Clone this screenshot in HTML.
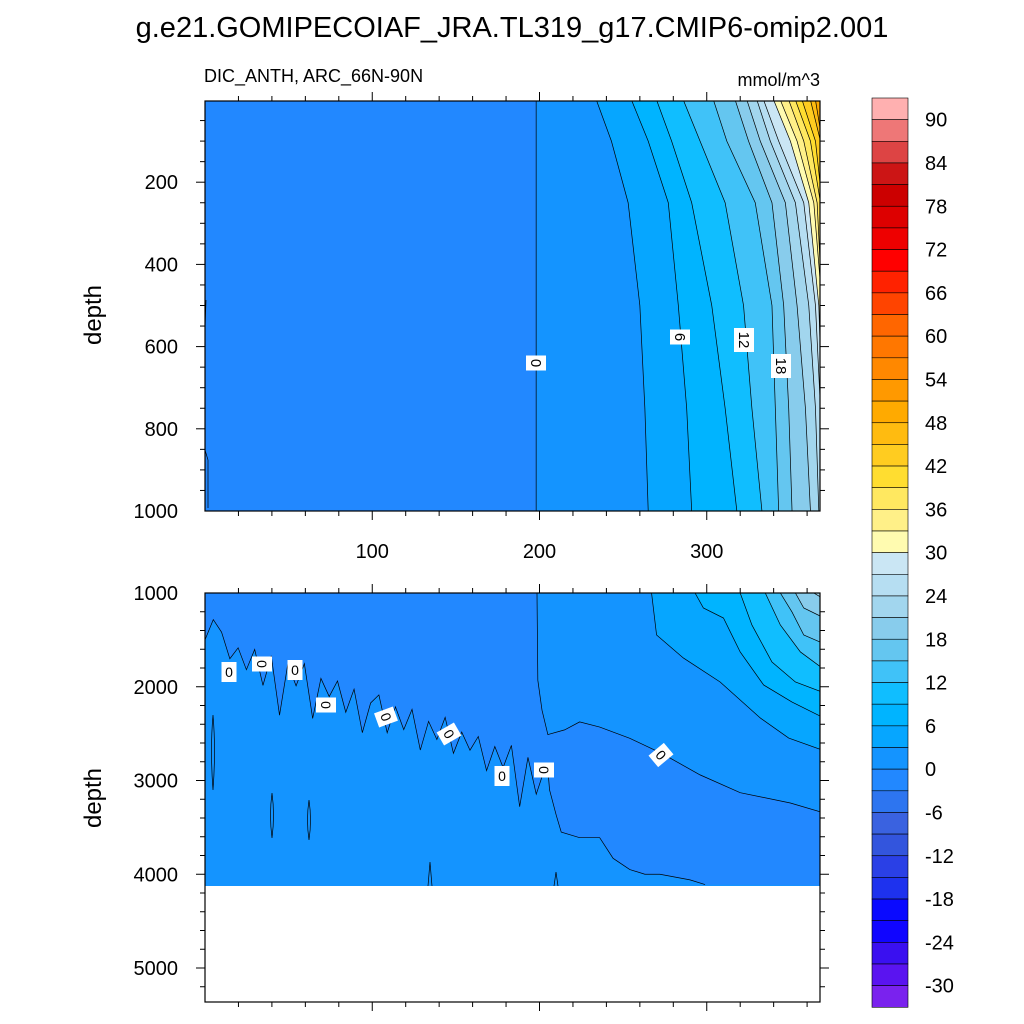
<!DOCTYPE html>
<html><head><meta charset="utf-8"><style>
body{margin:0;background:#fff}
svg{display:block;font-family:"Liberation Sans",sans-serif}
</style></head><body>
<svg id="c" width="1024" height="1024" viewBox="0 0 1024 1024" xmlns="http://www.w3.org/2000/svg">
<rect width="1024" height="1024" fill="#fff"/>
<text x="512" y="37" font-size="29" text-anchor="middle">g.e21.GOMIPECOIAF_JRA.TL319_g17.CMIP6-omip2.001</text>
<text x="204" y="82" font-size="18">DIC_ANTH, ARC_66N-90N</text>
<text x="820" y="86" font-size="18" text-anchor="end">mmol/m^3</text>
<text transform="translate(101,315) rotate(-90)" font-size="24" text-anchor="middle">depth</text>
<text transform="translate(101,798) rotate(-90)" font-size="24" text-anchor="middle">depth</text>
<defs>
<clipPath id="clipT"><rect x="205" y="101" width="615" height="410"/></clipPath>
<clipPath id="clipB"><rect x="205" y="593" width="615" height="293"/></clipPath>
</defs>
<g id="topPanel" clip-path="url(#clipT)"></g>
<g id="botPanel" clip-path="url(#clipB)"></g>
<g id="axes"></g>
<g id="cbar"></g>
</svg>
<script>
// ---- data ----
const bandLevels=[-33,-30,-27,-24,-21,-18,-15,-12,-9,-6,-3,0,3,6,9,12,15,18,21,24,27,30,33,36,39,42,45,48,51,54,57,60,63,66,69,72,75,78,81,84,87,90];
const bandColors=["#7A22EE","#5A14F0","#3A10F0","#1005FF","#0A0AFF","#1E32EE","#2A40E6","#3355DD","#3A62E0","#2D75F0","#2288FF","#1494FF","#06A6FF","#00B4FF","#10BEFF","#40C2F8","#64C6F0","#88CCEC","#A2D6EE","#B6DEF2","#CAE6F4","#FFFBB0","#FFF088","#FFE860","#FFDD30","#FFCC20","#FFBB10","#FFAA00","#FF9900","#FF8800","#FF7700","#FF6600","#FF4400","#FF2200","#FF0000","#EE0000","#DD0000","#CC0000","#CC1515","#DD4444","#EE7777","#FFB0B0"];
const cbarLabels=[90,84,78,72,66,60,54,48,42,36,30,24,18,12,6,0,-6,-12,-18,-24,-30];
const topDepths=[0,100,250,500,750,1000];
const topLevels=[0,3,6,9,12,15,18,21,24,27,30,33,36,39,42,45,48];
const topLon=[
[198,198,198,198,198,198],
[234,243,253,260,263,265],
[255,265,277,283,288,291],
[270,279,291,303,311,318],
[286,296,311,322,327,333],
[304,312,329,339,341,343],
[317,325,339,346,349,351],
[324,332,347,354,359,362],
[330,338,353,361,365,367],
[334,343,358,365,368,369],
[340,350,361,367,369,369],
[344,354,364,369,369,369],
[349,358,366,369,369,369],
[353,362,368,369,369,369],
[357,365,369,369,369,369],
[362,368,369,369,369,369],
[365,369,369,369,369,369]];
const botLevels=[3,6,9,12,15,18,21];
const botLon=[[267,270,286,308,332,349,369],[293,298,310,320,334,351,369],[320,327,339,353,369],[335,344,356,369],[344,351,358,369],[353,358,369],[364,369]];
const botDep=[[1000,1448,1693,1949,2333,2547,2675],[1000,1160,1267,1629,1981,2163,2323],[1000,1341,1736,1949,2056],[1000,1341,1629,1800],[1000,1203,1448,1533],[1000,1160,1256],[1000,1053]];
const zeroVertLon=[198.5,199,201.5,205];
const zeroVertDep=[1000,1930,2250,2510];
const zeroRightLon=[215,224,236,254,273,296,320,350,369];
const zeroRightDep=[2460,2375,2430,2550,2710,2940,3130,3240,3340];
const zeroLowLon=[205,206,210,213,224,236,244,254,263,272,290,299];
const zeroLowDep=[2880,3100,3370,3550,3610,3610,3830,3950,4000,4000,4060,4110];
const jagStartLon=0, jagStartDep=1500, jagEndLon=203, jagEndDep=2880;
const jagOffsets=[0,-250,-150,100,-50,150,-100,250,-100,500,-80,120,-150,400,-60,100,-100,200,-80,350,0,-120,250,-60,150,-100,300,-40,120,-150,200,-60,100,-80,250,-40,150,-120,500,-60,300,0];
const maxDepth=4120;
// ---- scales ----
const xS=l=>205+l*1.6725;
const yT=d=>100+d*0.411;
const yB=d=>593+(d-1000)*0.09375;
const NS="http://www.w3.org/2000/svg";
function mk(tag,attrs,parent){const e=document.createElementNS(NS,tag);for(const k in attrs)e.setAttribute(k,attrs[k]);parent.appendChild(e);return e;}
const colorOf=v=>bandColors[bandLevels.indexOf(v)];
// ---- top panel ----
const topG=document.getElementById('topPanel');
let r=mk('rect',{x:205,y:101,width:615,height:410,fill:colorOf(-3)},topG);


topLevels.forEach((L,i)=>{
  const pts=topDepths.map((d,j)=>[xS(topLon[i][j]),yT(d)]);
  const poly=pts.map(p=>p.join(',')).join(' ')+` 830,${yT(1000)} 830,${yT(0)}`;
  const p=mk('polygon',{points:poly,fill:colorOf(L)},topG);
  
  
});
topLevels.forEach((L,i)=>{
  const pts=topDepths.map((d,j)=>[xS(topLon[i][j]),yT(d)]);
  const l=mk('polyline',{points:pts.map(p=>p.join(',')).join(' '),fill:'none',stroke:'#000','stroke-width':0.7},topG);
  
  
});
mk('path',{d:'M206,300 L205,330 M205,450 L208,460 L208,508',stroke:'#000','stroke-width':0.7,fill:'none'},topG);
// ---- bottom panel ----
const botG=document.getElementById('botPanel');
r=mk('rect',{x:205,y:593,width:615,height:293,fill:colorOf(0)},botG);


const jag=[];
for(let k=0;k<jagOffsets.length;k++){const t=k/(jagOffsets.length-1);jag.push([xS(jagStartLon+t*(jagEndLon-jagStartLon)),yB(jagStartDep+t*(jagEndDep-jagStartDep)+jagOffsets[k])]);}
const vert=zeroVertLon.map((l,i)=>[xS(l),yB(zeroVertDep[i])]);
const right=zeroRightLon.map((l,i)=>[xS(l),yB(zeroRightDep[i])]);
const low=zeroLowLon.map((l,i)=>[xS(l),yB(zeroLowDep[i])]);
let darkPts=[[200,593],...vert,...right,[830,yB(3340)],[830,yB(maxDepth)],...low.slice().reverse(),...jag.slice().reverse(),[200,jag[0][1]]];
let dp=mk('polygon',{points:darkPts.map(p=>p.join(',')).join(' '),fill:colorOf(-3)},botG);


botLevels.forEach((L,i)=>{
  const pts=botLon[i].map((l,j)=>[xS(l),yB(botDep[i][j])]);
  const poly=pts.map(p=>p.join(',')).join(' ')+` 830,${pts[pts.length-1][1]} 830,590`;
  const p=mk('polygon',{points:poly,fill:colorOf(L)},botG);
  
  
  const l=mk('polyline',{points:pts.map(p=>p.join(',')).join(' '),fill:'none',stroke:'#000','stroke-width':0.7},botG);
  
  
});
[[jag,'jagged'],[vert.concat(right),'right'],[low,'lower']].forEach(([pts,n])=>{
  const l=mk('polyline',{points:pts.map(p=>p.join(',')).join(' '),fill:'none',stroke:'#000','stroke-width':0.7},botG);
  
  
});
mk('path',{d:'M213,715 Q210,750 213,790 Q216,750 213,715 M272,793 Q269,815 272,838 Q275,815 272,793 M309,800 Q306,820 309,840 Q312,820 309,800 M430,862 L428,886 M430,862 L432,886 M556,872 L554,886 M556,872 L558,886',stroke:'#000','stroke-width':0.7,fill:'none'},botG);
// labels
function lab(g,x,y,t,rot,name,fs){const gg=mk('g',{transform:`translate(${x},${y}) rotate(${rot})`},g);
 
 const w=t.length*9+6;mk('rect',{x:-w/2,y:-10,width:w,height:20,fill:'#fff'},gg);
 const tx=mk('text',{x:0,y:5,'font-size':fs||14,'text-anchor':'middle'},gg);tx.textContent=t;}
lab(topG,536,363,'0',90,'contour-label-0',15);
lab(topG,680,337,'6',90,'contour-label-6',15);
lab(topG,744,340,'12',90,'contour-label-12',15);
lab(topG,781,366,'18',90,'contour-label-18',15);
[[229,672,0],[262,664,90],[295,670,0],[326,705,90],[386,717,70],[449,734,60],[502,776,0],[544,770,90],[661,755,50]].forEach((p,i)=>lab(botG,p[0],p[1],'0',p[2],'bottom-contour-label-'+i));
// ---- axes ----
const ax=document.getElementById('axes');
function line(x1,y1,x2,y2,w){mk('line',{x1,y1,x2,y2,stroke:'#000','stroke-width':w||1},ax);}
function txt(x,y,t,anchor,name){const e=mk('text',{x,y,'font-size':20,'text-anchor':anchor},ax);e.textContent=t;}
mk('rect',{x:205,y:101,width:615,height:410,fill:'none',stroke:'#000','stroke-width':1.2},ax);
mk('rect',{x:205,y:593,width:615,height:409,fill:'none',stroke:'#000','stroke-width':1.2},ax);
for(let d=50;d<1000;d+=50){const y=yT(d),M=d%200===0,L=M?9:5;line(205-L,y,205,y);line(820,y,820+L,y);}
[200,400,600,800,1000].forEach(d=>txt(178,yT(d)+7,String(d),'end','top-y-tick-'+d));
for(let l=20;l<368;l+=20){const x=xS(l),M=l%100===0,L=M?9:5;line(x,511,x,511+L);line(x,101,x,101-L);line(x,1002,x,1002+L);line(x,593,x,593-L);}
[100,200,300].forEach(l=>txt(xS(l),558,String(l),'middle','top-x-tick-'+l));
for(let d=1200;d<5360;d+=200){const y=593+(d-1000)*0.09375,M=d%1000===0,L=M?9:5;line(205-L,y,205,y);line(820,y,820+L,y);}
[1000,2000,3000,4000,5000].forEach(d=>txt(178,593+(d-1000)*0.09375+7,String(d),'end','bottom-y-tick-'+d));
// ---- colorbar ----
const cb=document.getElementById('cbar');
const h=21.65,cbTop=98;
bandColors.slice().reverse().forEach((c,i)=>{const e=mk('rect',{x:872,y:cbTop+i*h,width:36,height:h,fill:c,stroke:'#000','stroke-width':0.6},cb);
 });
cbarLabels.forEach((v,i)=>{const e=mk('text',{x:925,y:cbTop+h+i*2*h+7,'font-size':20},cb);e.textContent=String(v);
 });
</script>
</body></html>
